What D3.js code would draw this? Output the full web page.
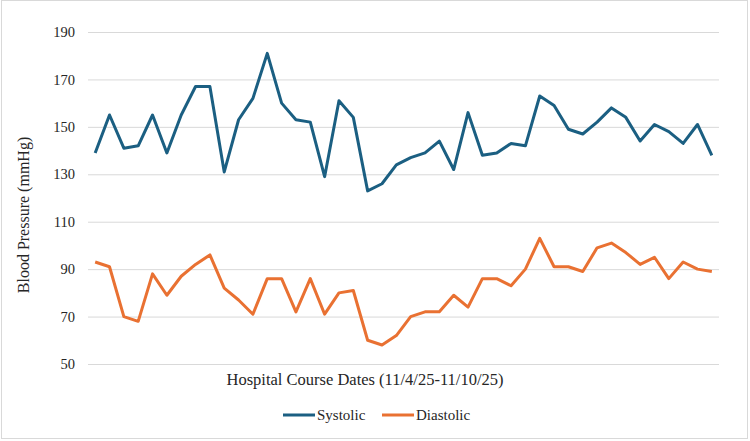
<!DOCTYPE html>
<html>
<head>
<meta charset="utf-8">
<script src="https://cdn.jsdelivr.net/npm/d3@7"></script>
<style>
  body { margin: 0; background: #fff; }
  svg text { font-family: "Liberation Serif", "Times New Roman", serif; fill: #262626; }
</style>
</head>
<body>
<div id="wrapper"></div>
<script>
// readings in order across the hospital stay
const systolic = [139, 155, 141, 142, 155, 139, 155, 167, 167, 131, 153, 162, 181, 160, 153, 152, 129, 161, 154, 123, 126, 134, 137, 139, 144, 132, 156, 138, 139, 143, 142, 163, 159, 149, 147, 152, 158, 154, 144, 151, 148, 143, 151, 138];
const diastolic = [93, 91, 70, 68, 88, 79, 87, 92, 96, 82, 77, 71, 86, 86, 72, 86, 71, 80, 81, 60, 58, 62, 70, 72, 72, 79, 74, 86, 86, 83, 90, 103, 91, 91, 89, 99, 101, 97, 92, 95, 86, 93, 90, 89];
const yTicks = [50, 70, 90, 110, 130, 150, 170, 190];
const seriesNames = ["Systolic", "Diastolic"];
const seriesColors = ["#1b5f82", "#e97132"];

const dimension = {
    width: 750,
    height: 441,
    margin: { top: 32, left: 88, bottom: 77, right: 31 }
};
dimension.boundedWidth = dimension.width - dimension.margin.left - dimension.margin.right;
dimension.boundedHeight = dimension.height - dimension.margin.top - dimension.margin.bottom;

const svg = d3.select("#wrapper").append("svg")
    .attr("width", dimension.width)
    .attr("height", dimension.height);

// chart frame
svg.append("rect")
    .attr("x", 1.5).attr("y", 0.5)
    .attr("width", dimension.width - 4).attr("height", dimension.height - 3)
    .attr("fill", "#fff")
    .attr("stroke", "#d9d9d9");

const bounded = svg.append("g")
    .attr("transform", `translate(${dimension.margin.left},${dimension.margin.top})`);

const idx = d3.range(systolic.length);
const xScaler = d3.scalePoint()
    .domain(idx)
    .range([0, dimension.boundedWidth])
    .padding(0.5);

const yScaler = d3.scaleLinear()
    .domain([50, 190])
    .range([dimension.boundedHeight, 0]);

// gridlines + tick labels
const yAxis = bounded.append("g")
    .call(d3.axisLeft(yScaler).tickValues(yTicks).tickSize(-dimension.boundedWidth).tickPadding(13));
yAxis.select(".domain").remove();
yAxis.selectAll(".tick line").attr("stroke", "#d9d9d9").attr("stroke-width", 1);
yAxis.selectAll(".tick text")
    .attr("font-size", 14.5)
    .attr("font-family", "Liberation Serif, serif")
    .attr("fill", "#262626");

const lineGenerator = (values) => d3.line()
    .x((d, i) => xScaler(i))
    .y(d => yScaler(d))(values);

[systolic, diastolic].forEach((values, k) => {
    bounded.append("path")
        .attr("fill", "none")
        .attr("stroke", seriesColors[k])
        .attr("stroke-width", 3)
        .attr("stroke-linejoin", "round")
        .attr("d", lineGenerator(values));
});

// axis titles
svg.append("text")
    .attr("x", 365)
    .attr("y", 385)
    .attr("text-anchor", "middle")
    .attr("font-size", 16.5)
    .text("Hospital Course Dates (11/4/25-11/10/25)");

svg.append("text")
    .attr("transform", "translate(29,215) rotate(-90)")
    .attr("text-anchor", "middle")
    .attr("font-size", 16)
    .text("Blood Pressure (mmHg)");

// legend
const legendX = [283, 382];
seriesNames.forEach((name, k) => {
    const g = svg.append("g").attr("transform", `translate(${legendX[k]},415)`);
    g.append("line")
        .attr("x1", 0).attr("x2", 32)
        .attr("stroke", seriesColors[k])
        .attr("stroke-width", 3);
    g.append("text")
        .attr("x", 34)
        .attr("y", 5)
        .attr("font-size", 15)
        .text(name);
});
</script>
</body>
</html>
